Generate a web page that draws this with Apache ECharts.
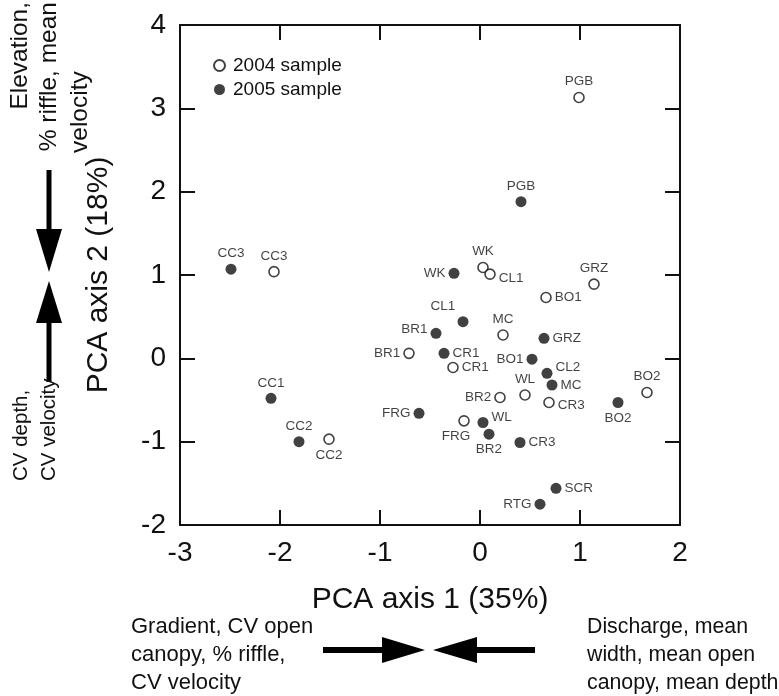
<!DOCTYPE html>
<html>
<head>
<meta charset="utf-8">
<script src="https://cdn.jsdelivr.net/npm/echarts@6/dist/echarts.min.js"></script>
<style>
  html, body { margin: 0; padding: 0; background: #fff; }
  #pca { width: 779px; height: 696px; }
</style>
</head>
<body>
<div id="pca"></div>
<script>
  // 2004 sample sites
  let sites04 = ['PGB','CC3','WK','CL1','GRZ','BO1','MC','BR1','CR1','WL','BR2','CR3','BO2','FRG','CC2']
  let axis1_04 = [0.99,-2.06,0.03,0.10,1.14,0.66,0.23,-0.71,-0.27,0.45,0.20,0.69,1.67,-0.16,-1.51]
  let axis2_04 = [3.13,1.04,1.09,1.01,0.89,0.73,0.28,0.06,-0.11,-0.44,-0.47,-0.53,-0.41,-0.75,-0.97]

  // 2005 sample sites
  let sites05 = ['PGB','CC3','WK','CL1','BR1','CR1','GRZ','BO1','CL2','MC','BO2','CC1','FRG','WL','BR2','CR3','CC2','SCR','RTG']
  let axis1_05 = [0.41,-2.49,-0.26,-0.17,-0.44,-0.36,0.64,0.52,0.67,0.72,1.38,-2.09,-0.61,0.03,0.09,0.40,-1.81,0.76,0.60]
  let axis2_05 = [1.88,1.07,1.02,0.44,0.30,0.06,0.24,-0.01,-0.18,-0.32,-0.53,-0.48,-0.66,-0.77,-0.91,-1.01,-1.00,-1.56,-1.75]

  let xTicks = [-3,-2,-1,0,1,2]
  let yTicks = [-2,-1,0,1,2,3,4]

  // where each site label sits relative to its point
  let labelPlace04 = {
    CL1: ['right',[0,4]], BO1: ['right'], BR1: ['left'], CR1: ['right'], BR2: ['left'],
    CR3: ['right',[0,3]], FRG: ['bottom',[-8,0]], CC2: ['bottom']
  }
  let labelPlace05 = {
    WK: ['left'], CL1: ['top',[-20,0]], BR1: ['left',[0,-4]], CR1: ['right'], GRZ: ['right'],
    BO1: ['left'], CL2: ['right',[0,-6]], MC: ['right'], BO2: ['bottom'], FRG: ['left'],
    WL: ['right',[0,-5]], BR2: ['bottom'], CR3: ['right'], SCR: ['right'], RTG: ['left']
  }

  let font = 'Liberation Sans, Arial, sans-serif'

  function buildPoints(names, xs, ys, places) {
    return names.map((n, i) => {
      let p = places[n] || ['top']
      return {
        name: n,
        value: [xs[i], ys[i]],
        label: { position: p[0], offset: p[1] || [0, 0] }
      }
    })
  }

  let dom = document.getElementById('pca')
  let myChart = echarts.init(dom)

  let xMin = xTicks[0], xMax = xTicks[xTicks.length - 1]
  let yMin = yTicks[0], yMax = yTicks[yTicks.length - 1]

  let tickStyle = { show: true, inside: true, length: 15, lineStyle: { color: '#111', width: 2 } }
  let lineStyle = { show: true, onZero: false, lineStyle: { color: '#111', width: 2 } }

  let pointLabel = {
    show: true,
    formatter: '{b}',
    color: '#111',
    fontFamily: font,
    fontSize: 13.5,
    distance: 3
  }

  function vText(x, y, text, size, align) {
    return {
      type: 'text', x: x, y: y, rotation: Math.PI / 2,
      style: { text: text, font: size + 'px ' + font, fill: '#111', align: align, verticalAlign: 'middle' }
    }
  }

  let option = {
    animation: false,
    backgroundColor: '#fff',
    grid: { left: 180, right: 99, top: 25, bottom: 171 },
    legend: {
      orient: 'vertical',
      left: 208,
      top: 51,
      itemWidth: 11,
      itemHeight: 11,
      itemGap: 5,
      textStyle: { fontFamily: font, fontSize: 19, color: '#111', padding: [0, 0, 0, 3] },
      data: ['2004 sample', '2005 sample']
    },
    xAxis: [
      {
        type: 'value', min: xMin, max: xMax, interval: 1,
        name: 'PCA axis 1 (35%)', nameLocation: 'middle', nameGap: 60,
        nameTextStyle: { fontFamily: font, fontSize: 30, color: '#111' },
        axisLine: lineStyle, axisTick: tickStyle,
        axisLabel: { margin: 14, fontFamily: font, fontSize: 28, color: '#111' },
        splitLine: { show: false }
      },
      {
        type: 'value', position: 'top', min: xMin, max: xMax, interval: 1,
        axisLine: lineStyle, axisTick: tickStyle,
        axisLabel: { show: false }, splitLine: { show: false }
      }
    ],
    yAxis: [
      {
        type: 'value', min: yMin, max: yMax, interval: 1,
        name: 'PCA axis 2 (18%)', nameLocation: 'middle', nameGap: 66,
        nameTextStyle: { fontFamily: font, fontSize: 30, color: '#111' },
        axisLine: lineStyle, axisTick: tickStyle,
        axisLabel: { margin: 14, fontFamily: font, fontSize: 28, color: '#111' },
        splitLine: { show: false }
      },
      {
        type: 'value', position: 'right', min: yMin, max: yMax, interval: 1,
        axisLine: lineStyle, axisTick: tickStyle,
        axisLabel: { show: false }, splitLine: { show: false }
      }
    ],
    series: [
      {
        name: '2004 sample',
        type: 'scatter',
        symbol: 'circle',
        symbolSize: 10,
        itemStyle: { color: '#fff', borderColor: '#111', borderWidth: 1.6 },
        label: pointLabel,
        data: buildPoints(sites04, axis1_04, axis2_04, labelPlace04)
      },
      {
        name: '2005 sample',
        type: 'scatter',
        symbol: 'circle',
        symbolSize: 11,
        itemStyle: { color: '#111' },
        label: pointLabel,
        data: buildPoints(sites05, axis1_05, axis2_05, labelPlace05)
      }
    ],
    graphic: [
      // vertical arrows, left
      { type: 'line', shape: { x1: 49, y1: 170, x2: 49, y2: 232 }, style: { stroke: '#000', lineWidth: 5 } },
      { type: 'polygon', shape: { points: [[36, 229], [62, 229], [49, 272]] }, style: { fill: '#000' } },
      { type: 'polygon', shape: { points: [[49, 281], [36, 323], [62, 323]] }, style: { fill: '#000' } },
      { type: 'line', shape: { x1: 49, y1: 320, x2: 49, y2: 382 }, style: { stroke: '#000', lineWidth: 5 } },
      // horizontal arrows, bottom
      { type: 'line', shape: { x1: 323, y1: 650, x2: 385, y2: 650 }, style: { stroke: '#000', lineWidth: 6 } },
      { type: 'polygon', shape: { points: [[382, 637], [382, 663], [425, 650]] }, style: { fill: '#000' } },
      { type: 'polygon', shape: { points: [[433, 650], [477, 637], [477, 663]] }, style: { fill: '#000' } },
      { type: 'line', shape: { x1: 474, y1: 650, x2: 535, y2: 650 }, style: { stroke: '#000', lineWidth: 6 } },
      // axis 2 notes
      vText(20, 2, 'Elevation,', 24.5, 'right'),
      vText(49, 2, '% riffle, mean', 24.5, 'right'),
      vText(80, 153, 'velocity', 24.5, 'left'),
      vText(21, 481, 'CV depth,', 20.5, 'left'),
      vText(49, 481, 'CV velocity', 20.5, 'left'),
      // axis 1 notes
      { type: 'text', x: 131, y: 613, style: { text: 'Gradient, CV open\ncanopy, % riffle,\nCV velocity', font: '22px ' + font, fill: '#111', lineHeight: 28 } },
      { type: 'text', x: 587, y: 613, style: { text: 'Discharge, mean\nwidth, mean open\ncanopy, mean depth', font: '21.3px ' + font, fill: '#111', lineHeight: 28 } }
    ]
  }

  myChart.setOption(option, true)
</script>
</body>
</html>
